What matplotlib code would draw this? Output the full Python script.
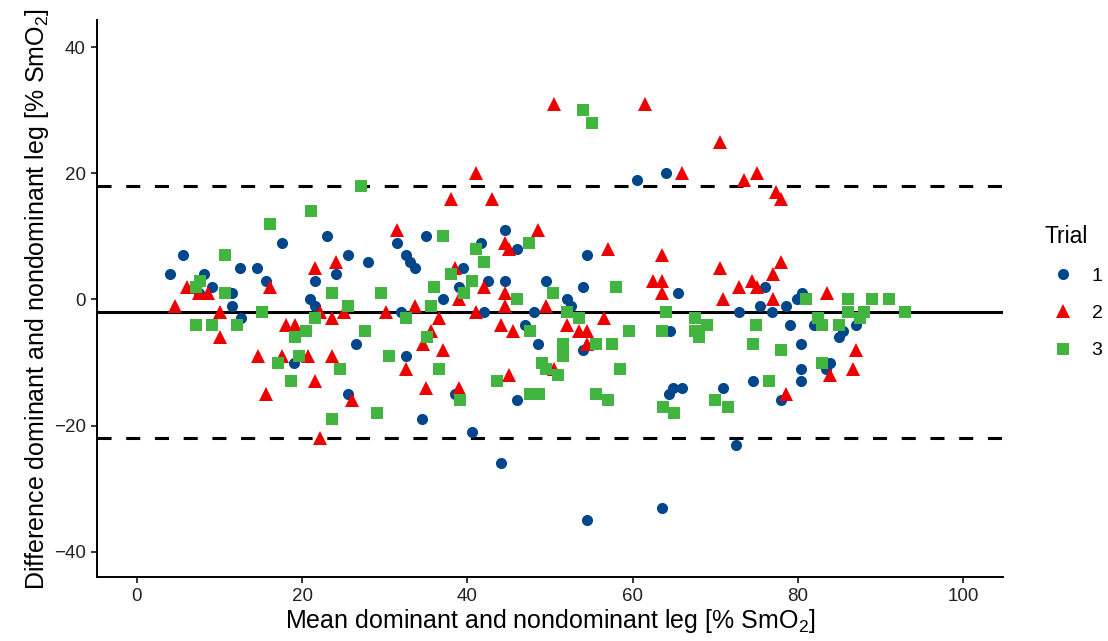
"""
Bland-Altman plot: dominant vs nondominant leg SmO2, three trials.
Saves out.png
"""

import matplotlib
matplotlib.use("Agg")
import matplotlib.pyplot as plt
from matplotlib.lines import Line2D

plt.rcParams["font.family"] = ["Liberation Sans", "DejaVu Sans"]
plt.rcParams["mathtext.fontset"] = "custom"
plt.rcParams["mathtext.rm"] = "Liberation Sans"
plt.rcParams["mathtext.default"] = "regular"

# Trial 1
x1 = [4.0, 5.6, 8.1, 9.1, 7.5, 11.5, 11.5, 12.6, 12.5, 14.5, 15.6, 17.6, 23.0, 21.5, 21.0,
      21.6, 25.5, 24.1, 28.0, 31.5, 32.6, 33.0, 33.6, 35.0, 39.5, 41.6, 44.6, 46.0, 42.5, 44.6,
      49.5, 39.0, 37.0, 32.0, 42.0, 48.0, 47.0, 26.5, 48.5, 60.5, 64.0, 54.5, 54.0, 52.0, 52.5,
      65.5, 72.9, 75.4, 76.0, 64.5, 54.0, 76.9, 78.5, 79.9, 80.5, 79.0, 81.9, 85.4, 85.0, 87.0,
      80.4, 19.0, 32.6, 25.5, 38.5, 34.5, 40.5, 44.0, 46.0, 64.4, 64.9, 66.0, 70.9, 74.5, 72.5,
      63.5, 54.5, 80.4, 80.4, 83.9, 83.4, 77.9]
y1 = [4, 7, 4, 2, 1, 1, -1, -3, 5, 5, 3, 9, 10, 3, 0,
      -1, 7, 4, 6, 9, 7, 6, 5, 10, 5, 9, 11, 8, 3, 3,
      3, 2, 0, -2, -2, -2, -4, -7, -7, 19, 20, 7, 2, 0, -1,
      1, -2, -1, 2, -5, -8, -2, -1, 0, 1, -4, -4, -5, -6, -4,
      -7, -10, -9, -15, -15, -19, -21, -26, -16, -15, -14, -14, -14, -13, -23,
      -33, -35, -11, -13, -10, -11, -16]

# Trial 2
x2 = [4.6, 6.0, 7.5, 8.6, 10.1, 10.1, 16.1, 18.0, 19.1, 21.5, 22.2, 41.0, 38.0, 43.0, 31.5,
      48.5, 24.1, 44.5, 45.0, 38.5, 42.0, 44.5, 39.0, 23.6, 25.1, 30.1, 33.6, 41.0, 44.5, 49.5,
      36.5, 35.6, 44.0, 45.5, 34.6, 37.0, 66.0, 75.0, 73.5, 57.0, 63.5, 70.5, 62.4, 63.5, 63.5,
      70.9, 72.9, 74.4, 75.0, 56.5, 52.0, 53.5, 54.5, 54.5, 77.0, 78.0, 77.0, 77.3, 77.9, 83.5,
      87.0, 70.5, 50.5, 61.5, 14.6, 17.6, 20.7, 21.5, 15.6, 22.1, 23.6, 32.6, 35.0, 39.0, 26.0,
      45.0, 50.5, 86.6, 83.9, 78.5]
y2 = [-1, 2, 1, 1, -2, -6, 2, -4, -4, 5, -2, 20, 16, 16, 11,
      11, 6, 9, 8, 5, 2, 1, 0, -3, -2, -2, -1, -2, -1, -1,
      -3, -5, -4, -5, -7, -8, 20, 20, 19, 8, 7, 5, 3, 3, 1,
      0, 2, 3, 2, -3, -4, -5, -5, -7, 4, 6, 0, 17, 16, 1,
      -8, 25, 31, 31, -9, -9, -9, -13, -15, -22, -9, -11, -14, -14, -16,
      -12, -11, -11, -12, -15]

# Trial 3
x3 = [21.1, 16.1, 10.7, 7.6, 7.1, 10.7, 15.1, 7.1, 9.1, 12.1, 21.5, 20.5, 19.1, 23.6, 27.1,
      37.0, 41.0, 42.0, 47.5, 38.0, 40.5, 36.0, 39.6, 29.5, 25.5, 35.6, 46.0, 50.4, 32.6, 27.6,
      35.1, 47.6, 58.0, 52.0, 53.5, 64.0, 59.5, 63.5, 67.5, 67.5, 69.0, 68.0, 74.9, 51.5, 55.5,
      57.5, 74.5, 81.0, 86.0, 86.0, 89.0, 91.0, 88.0, 93.0, 82.4, 82.9, 85.0, 87.5, 77.9, 17.1,
      19.6, 18.6, 23.6, 30.5, 24.6, 36.6, 29.0, 39.1, 43.6, 49.0, 49.5, 47.6, 48.6, 51.5, 51.0,
      58.5, 55.6, 57.0, 63.6, 65.0, 70.0, 71.5, 76.5, 82.9, 54.0, 55.1]
y3 = [14, 12, 7, 3, 2, 1, -2, -4, -4, -4, -3, -5, -6, 1, 18,
      10, 8, 6, 9, 4, 3, 2, 1, 1, -1, -1, 0, 1, -3, -5,
      -6, -5, 2, -2, -3, -2, -5, -5, -3, -5, -4, -6, -4, -7, -7,
      -7, -7, 0, 0, -2, 0, 0, -2, -2, -3, -4, -4, -3, -8, -10,
      -9, -13, -19, -9, -11, -11, -18, -16, -13, -10, -11, -15, -15, -9, -12,
      -11, -15, -16, -17, -18, -16, -17, -13, -10, 30, 28]

# bias and limits of agreement
mean_diff = -2
loa_upper = 18
loa_lower = -22

trials = ["1", "2", "3"]
colors = ["#00468B", "#ED0000", "#42B540"]
markers = ["o", "^", "s"]
sizes = [8.0, 10.5, 8.6]

fig = plt.figure(figsize=(11.08, 6.41), dpi=100)
ax = fig.add_axes([0.0875, 0.0998, 0.8177, 0.869])

# reference lines under the points
ax.axhline(mean_diff, color="black", lw=2.2, zorder=1)
for lim in (loa_upper, loa_lower):
    ax.axhline(lim, color="black", lw=2.2, dashes=(4.6, 4.8), zorder=1)

data = [(x1, y1), (x2, y2), (x3, y3)]
for i, (xs, ys) in enumerate(data):
    ax.plot(xs, ys, linestyle="none", marker=markers[i], ms=sizes[i],
            color=colors[i], markeredgewidth=0, zorder=2 + i)

ax.set_xlim(-4.84, 104.8)
ax.set_ylim(-44.0, 44.3)
ax.set_xticks([0, 20, 40, 60, 80, 100])
ax.set_yticks([-40, -20, 0, 20, 40])

for side in ("top", "right"):
    ax.spines[side].set_visible(False)
for side in ("left", "bottom"):
    ax.spines[side].set_linewidth(1.4)
ax.tick_params(length=4, width=1.1, labelsize=13.5, labelcolor="#222222", pad=4)

ax.set_xlabel("Mean dominant and nondominant leg [% SmO$_2$]", fontsize=18, labelpad=1)
ax.set_ylabel("Difference dominant and nondominant leg [% SmO$_2$]", fontsize=18, labelpad=2)

# legend, keys the same size as the points
handles = [Line2D([], [], linestyle="none", marker=markers[i], ms=sizes[i],
                  color=colors[i], markeredgewidth=0) for i in range(3)]
leg = fig.legend(handles, trials, title="Trial", loc="upper left",
                 bbox_to_anchor=(0.9265, 0.676), frameon=False,
                 fontsize=14, title_fontsize=16.5, labelspacing=1.0,
                 handletextpad=0.55, handlelength=1.9)
leg._legend_box.align = "left"

fig.savefig("out.png", dpi=100, facecolor="white")
plt.close(fig)
